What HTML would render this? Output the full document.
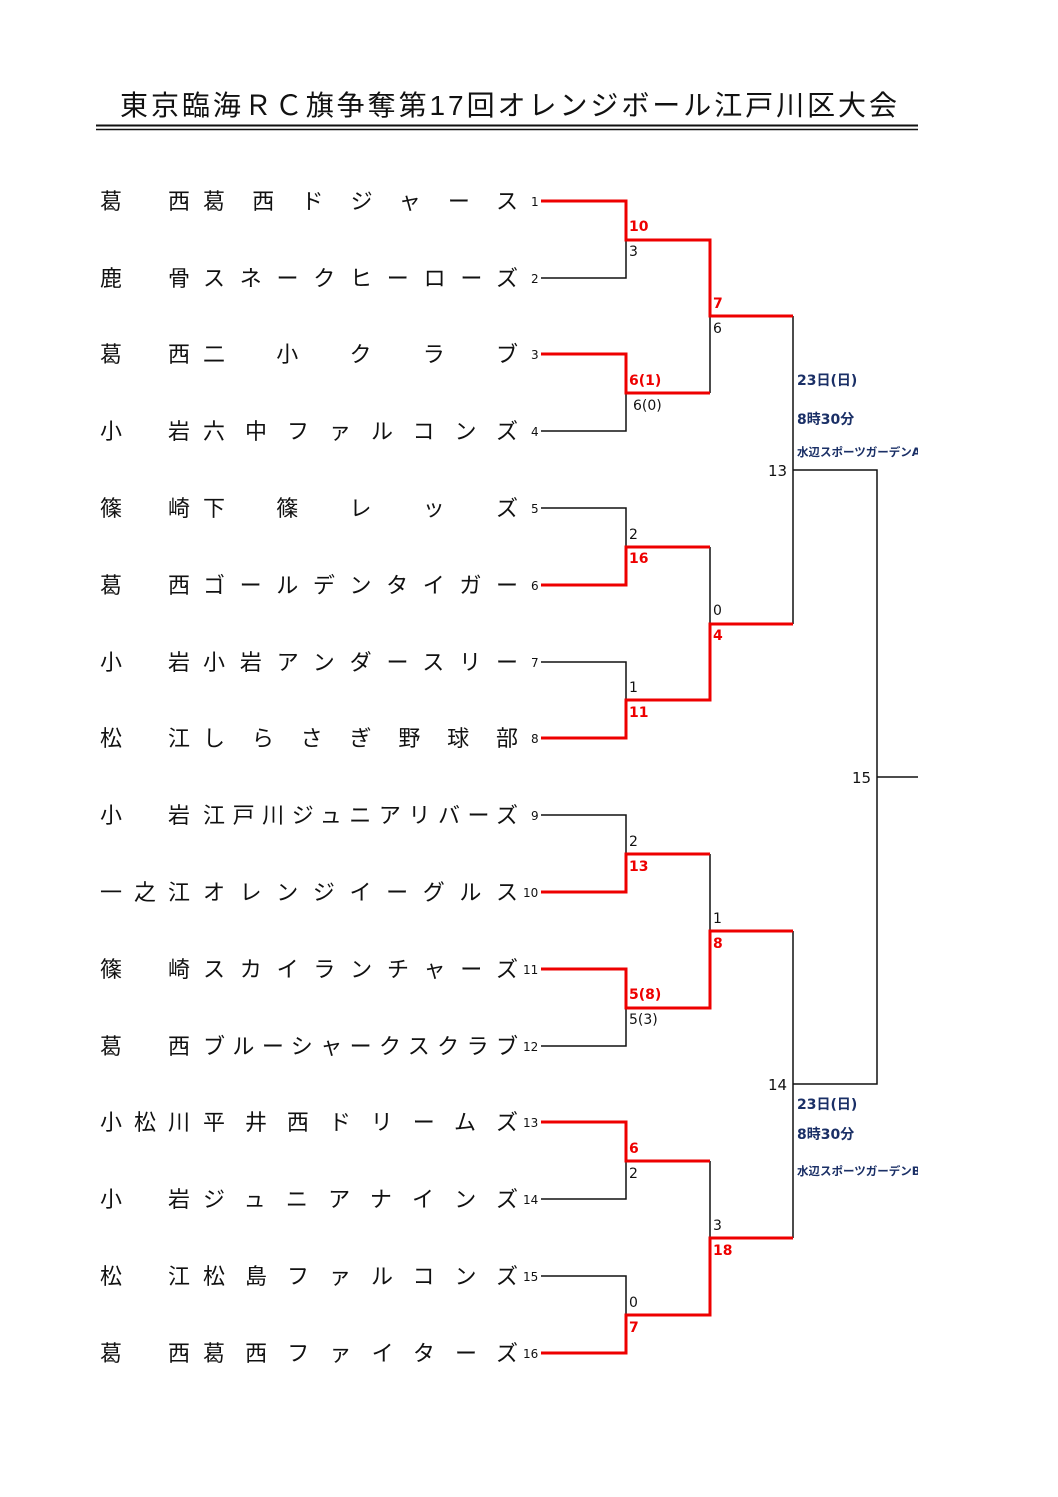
<!DOCTYPE html>
<html><head><meta charset="utf-8"><style>
html,body{margin:0;padding:0;background:#fff;}
svg{display:block;}
text{font-family:"Liberation Sans","Noto Sans CJK JP",sans-serif;}
.nm{font-size:22px;fill:#111;}
.no{font-size:12px;fill:#111;font-family:"DejaVu Sans",sans-serif;}
.sc text{font-size:14px;fill:#111;font-family:"DejaVu Sans","Noto Sans CJK JP",sans-serif;}
.rs text{font-size:14px;fill:#e00;font-weight:bold;font-family:"DejaVu Sans",sans-serif;}
.bl text{fill:#1a2f66;font-weight:bold;font-family:"DejaVu Sans","Noto Sans CJK JP",sans-serif;}
</style></head><body>
<svg width="1058" height="1497" viewBox="0 0 1058 1497" xmlns="http://www.w3.org/2000/svg">
<defs><clipPath id="c"><rect x="0" y="0" width="918" height="1497"/></clipPath></defs>
<text x="120" y="115" style="font-size:28px;fill:#111" textLength="777" lengthAdjust="spacing">東京臨海ＲＣ旗争奪第17回オレンジボール江戸川区大会</text>
<line x1="96" y1="125.5" x2="918" y2="125.5" stroke="#111" stroke-width="2"/>
<line x1="96" y1="129.5" x2="918" y2="129.5" stroke="#111" stroke-width="1.5"/>

<g class="nm">
<text x="100" y="209" textLength="90" lengthAdjust="spacing">葛西</text><text x="203" y="209" textLength="315" lengthAdjust="spacing">葛西ドジャース</text>
<text x="100" y="286" textLength="90" lengthAdjust="spacing">鹿骨</text><text x="203" y="286" textLength="315" lengthAdjust="spacing">スネークヒーローズ</text>
<text x="100" y="362" textLength="90" lengthAdjust="spacing">葛西</text><text x="203" y="362" textLength="315" lengthAdjust="spacing">二小クラブ</text>
<text x="100" y="439" textLength="90" lengthAdjust="spacing">小岩</text><text x="203" y="439" textLength="315" lengthAdjust="spacing">六中ファルコンズ</text>
<text x="100" y="516" textLength="90" lengthAdjust="spacing">篠崎</text><text x="203" y="516" textLength="315" lengthAdjust="spacing">下篠レッズ</text>
<text x="100" y="593" textLength="90" lengthAdjust="spacing">葛西</text><text x="203" y="593" textLength="315" lengthAdjust="spacing">ゴールデンタイガー</text>
<text x="100" y="670" textLength="90" lengthAdjust="spacing">小岩</text><text x="203" y="670" textLength="315" lengthAdjust="spacing">小岩アンダースリー</text>
<text x="100" y="746" textLength="90" lengthAdjust="spacing">松江</text><text x="203" y="746" textLength="315" lengthAdjust="spacing">しらさぎ野球部</text>
<text x="100" y="823" textLength="90" lengthAdjust="spacing">小岩</text><text x="203" y="823" textLength="315" lengthAdjust="spacing">江戸川ジュニアリバーズ</text>
<text x="100" y="900" textLength="90" lengthAdjust="spacing">一之江</text><text x="203" y="900" textLength="315" lengthAdjust="spacing">オレンジイーグルス</text>
<text x="100" y="977" textLength="90" lengthAdjust="spacing">篠崎</text><text x="203" y="977" textLength="315" lengthAdjust="spacing">スカイランチャーズ</text>
<text x="100" y="1054" textLength="90" lengthAdjust="spacing">葛西</text><text x="203" y="1054" textLength="315" lengthAdjust="spacing">ブルーシャークスクラブ</text>
<text x="100" y="1130" textLength="90" lengthAdjust="spacing">小松川</text><text x="203" y="1130" textLength="315" lengthAdjust="spacing">平井西ドリームズ</text>
<text x="100" y="1207" textLength="90" lengthAdjust="spacing">小岩</text><text x="203" y="1207" textLength="315" lengthAdjust="spacing">ジュニアナインズ</text>
<text x="100" y="1284" textLength="90" lengthAdjust="spacing">松江</text><text x="203" y="1284" textLength="315" lengthAdjust="spacing">松島ファルコンズ</text>
<text x="100" y="1361" textLength="90" lengthAdjust="spacing">葛西</text><text x="203" y="1361" textLength="315" lengthAdjust="spacing">葛西ファイターズ</text>
</g>
<g class="no">
<text x="531" y="206" class="no">1</text><text x="531" y="283" class="no">2</text><text x="531" y="359" class="no">3</text><text x="531" y="436" class="no">4</text>
<text x="531" y="513" class="no">5</text><text x="531" y="590" class="no">6</text><text x="531" y="667" class="no">7</text><text x="531" y="743" class="no">8</text>
<text x="531" y="820" class="no">9</text><text x="523" y="897" class="no">10</text><text x="523" y="974" class="no">11</text><text x="523" y="1051" class="no">12</text>
<text x="523" y="1127" class="no">13</text><text x="523" y="1204" class="no">14</text><text x="523" y="1281" class="no">15</text><text x="523" y="1358" class="no">16</text>
</g>

<g fill="none" stroke="#111" stroke-width="1.5">
<path d="M541 278H626V240"/>
<path d="M541 431H626V393"/>
<path d="M541 508H626V547"/>
<path d="M541 662H626V700"/>
<path d="M541 815H626V854"/>
<path d="M541 1046H626V1008"/>
<path d="M541 1199H626V1161"/>
<path d="M541 1276H626V1315"/>
<path d="M710 316V393"/>
<path d="M710 547V624"/>
<path d="M710 854V931"/>
<path d="M710 1161V1238"/>
<path d="M793 316V624"/>
<path d="M793 931V1238"/>
<path d="M793 470H877V1084H793"/>
<path d="M877 777H918"/>
</g>
<g fill="none" stroke="#e00" stroke-width="3">
<path d="M541 201H626V240H710V316H793"/>
<path d="M541 354H626V393H710"/>
<path d="M541 585H626V547H710"/>
<path d="M541 738H626V700H710V624H793"/>
<path d="M541 892H626V854H710"/>
<path d="M541 969H626V1008H710V931H793"/>
<path d="M541 1122H626V1161H710"/>
<path d="M541 1353H626V1315H710V1238H793"/>
</g>

<g class="rs">
<text x="629" y="231">10</text><text x="629" y="385">6(1)</text><text x="629" y="563">16</text><text x="629" y="717">11</text>
<text x="629" y="871">13</text><text x="629" y="999">5(8)</text><text x="629" y="1153">6</text><text x="629" y="1332">7</text>
<text x="713" y="308">7</text><text x="713" y="640">4</text><text x="713" y="948">8</text><text x="713" y="1255">18</text>
</g>
<g class="sc">
<text x="629" y="256">3</text><text x="633" y="410">6(0)</text><text x="629" y="539">2</text><text x="629" y="692">1</text>
<text x="629" y="846">2</text><text x="629" y="1024">5(3)</text><text x="629" y="1178">2</text><text x="629" y="1307">0</text>
<text x="713" y="333">6</text><text x="713" y="615">0</text><text x="713" y="923">1</text><text x="713" y="1230">3</text>
<text x="768" y="476" style="font-size:15px">13</text><text x="768" y="1090" style="font-size:15px">14</text><text x="852" y="783" style="font-size:15px">15</text>
</g>
<g class="bl" clip-path="url(#c)">
<text x="797" y="385" style="font-size:14px">23日(日)</text>
<text x="797" y="424" style="font-size:14px">8時30分</text>
<text x="797" y="456" style="font-size:11.5px">水辺スポーツガーデンA面</text>
<text x="797" y="1109" style="font-size:14px">23日(日)</text>
<text x="797" y="1139" style="font-size:14px">8時30分</text>
<text x="797" y="1175" style="font-size:11.5px">水辺スポーツガーデンB面</text>
</g>
</svg>
</body></html>
